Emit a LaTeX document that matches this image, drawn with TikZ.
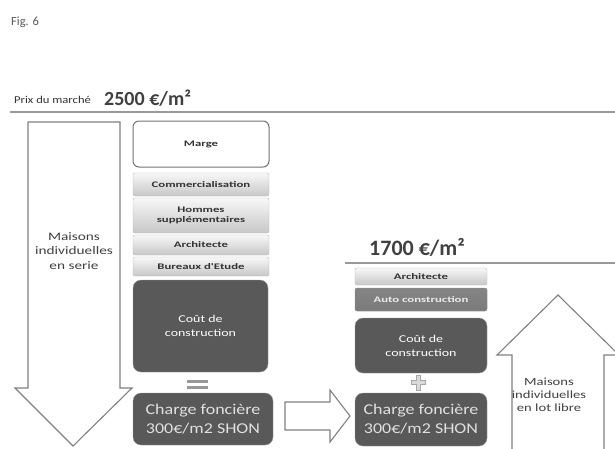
\documentclass[tikz,border=0pt]{standalone}
\usepackage{fontspec}
\setmainfont{Carlito}
\newfontfamily\wideA[FakeStretch=1.5]{Carlito}
\newfontfamily\wideB[FakeStretch=1.33]{Carlito}
\newfontfamily\wideC[FakeStretch=1.2]{Carlito}
\begin{document}
\begin{tikzpicture}[x=1pt,y=-1pt,
  lbox/.style={draw=black!28, top color=black!3, bottom color=black!22, rounded corners=2pt,
    font=\wideA\bfseries\fontsize{8.5}{10.5}\selectfont, text=black!80, align=center, inner sep=0pt},
  dbox/.style={draw=black!40, fill=black!65, rounded corners=8pt, text=white, align=center, inner sep=0pt},
  coutbox/.style={dbox, font=\wideB\fontsize{10.5}{14}\selectfont},
  cbox/.style={dbox, text=black!12, font=\wideC\fontsize{15}{19}\selectfont},
  bigarrow/.style={draw=black!50, fill=white, line width=1.1pt, line join=miter},
  rule/.style={draw=black!40, line width=1.3pt},
  lbl/.style={align=center, text=black!75, font=\wideB\fontsize{11.5}{14.5}\selectfont, inner sep=0pt}
]
\useasboundingbox (0,0) rectangle (615,448);

% header texts
\node[anchor=west, text=black!65, font=\fontsize{12.5}{14}\selectfont, inner sep=0pt] (fig) at (11,22) {Fig. 6};
\node[anchor=west, text=black!80, font=\wideC\fontsize{10.5}{12}\selectfont, inner sep=0pt] (prix) at (14,100) {Prix du marché};
\node[anchor=west, text=black!75, font=\bfseries\fontsize{20}{22}\selectfont, inner sep=0pt] (p2500) at (104,98) {2500 €/m²};
\node[anchor=west, text=black!75, font=\bfseries\fontsize{22}{24}\selectfont, inner sep=0pt] (p1700) at (369,247) {1700 €/m²};

% rules
\draw[rule] (10,112) -- (615,112);
\draw[rule] (345,263) -- (615,263);

% down arrow (left)
\draw[bigarrow] (28,122) -- (120,122) -- (120,388) -- (132,388) -- (73,446) -- (15,388) -- (28,388) -- cycle;
\node[lbl] (serie) at (74,251) {Maisons\\individuelles\\en serie};

% middle column
\node[draw=black!55, fill=white, line width=1pt, rounded corners=6pt, minimum width=136pt, minimum height=46pt,
  font=\wideA\bfseries\fontsize{8.5}{10}\selectfont, text=black!80, inner sep=0pt] (marge) at (201,144) {Marge};
\node[lbox, minimum width=136pt, minimum height=23pt] (comm) at (201,184.5) {Commercialisation};
\node[lbox, minimum width=136pt, minimum height=35pt] (hommes) at (201,215.5) {Hommes\\supplémentaires};
\node[lbox, minimum width=136pt, minimum height=20pt] (archi) at (201,245) {Architecte};
\node[lbox, minimum width=136pt, minimum height=19pt] (bureaux) at (201,266.5) {Bureaux d'Etude};
\node[coutbox, minimum width=135pt, minimum height=92pt] (cout) at (200.5,326) {Coût de\\construction};
\node[cbox, minimum width=140pt, minimum height=52pt] (charge) at (203,419) {Charge foncière\\300€/m2 SHON};

% equals sign
\fill[black!40] (187,380) rectangle (208,383);
\fill[black!40] (187,385.5) rectangle (208,388.5);

% right arrow (between the two land costs)
\draw[bigarrow] (285,402) -- (330,402) -- (330,390) -- (350,416) -- (330,442) -- (330,430) -- (285,430) -- cycle;

% right column
\node[lbox, minimum width=132pt, minimum height=17pt] (archi2) at (421,276.5) {Architecte};
\node[lbox, draw=black!40, fill=black!50, shading=, top color=black!48, bottom color=black!52, text=black!8,
  minimum width=132pt, minimum height=23pt] (auto) at (421,299.5) {Auto construction};
\node[coutbox, minimum width=132pt, minimum height=55pt] (cout2) at (421,345.5) {Coût de\\construction};
\node[cbox, minimum width=132pt, minimum height=53pt] (charge2) at (421,419.5) {Charge foncière\\300€/m2 SHON};

% plus sign
\filldraw[draw=black!35, fill=black!15] (416,375) -- (420,375) -- (420,380.5) -- (425,380.5) -- (425,384) -- (420,384) -- (420,390) -- (416,390) -- (416,384) -- (411,384) -- (411,380.5) -- (416,380.5) -- cycle;

% up arrow (right)
\draw[bigarrow] (512,452) -- (512,355) -- (497,355) -- (558,295) -- (619,355) -- (604,355) -- (604,452);
\node[lbl, font=\wideB\fontsize{11}{13}\selectfont] (libre) at (549,395) {Maisons\\individuelles\\en lot libre};
\end{tikzpicture}
\end{document}
